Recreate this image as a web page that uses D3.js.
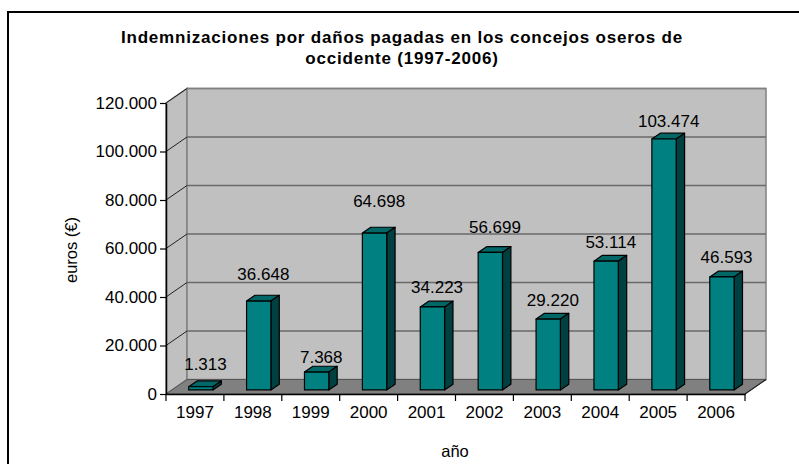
<!DOCTYPE html>
<html>
<head>
<meta charset="utf-8">
<script src="https://cdn.jsdelivr.net/npm/d3@7"></script>
<style>
  html, body { margin: 0; padding: 0; background: #fff; }
  svg { display: block; }
  text { font-family: "Liberation Sans", Arial, sans-serif; fill: #000; }
</style>
</head>
<body>
<svg id="chart" width="799" height="464"></svg>
<script>
// ---- data ----
const years = ["1997", "1998", "1999", "2000", "2001", "2002", "2003", "2004", "2005", "2006"];
const values = [1313, 36648, 7368, 64698, 34223, 56699, 29220, 53114, 103474, 46593];
const yTickValues = [0, 20000, 40000, 60000, 80000, 100000, 120000];
const titleLines = ["Indemnizaciones por daños pagadas en los concejos oseros de", "occidente (1997-2006)"];
const yTitle = "euros (€)";
const xTitle = "año";

// manual label adjustments seen in the original (pixels, upward)
const labelNudge = [5, 9, -2.5, 14, 2, 7.5, 1, 1, 0, 2];

(function () {
const svg = d3.select("#chart");
const fmt = d3.formatLocale({ decimal: ",", thousands: ".", grouping: [3], currency: ["", "€"] }).format(",d");
const FONT = "Liberation Sans, Arial, sans-serif";

// frame
svg.append("rect").attr("x", 8).attr("y", 12).attr("width", 810).attr("height", 470)
  .attr("fill", "#fff").attr("stroke", "#000").attr("stroke-width", 2);

// geometry
const pLeft = 166, pRight = 745, pBottom = 394, pTop = 103;
const DX = 21, DY = -14.5;
const x = d3.scaleBand().domain(years).range([pLeft, pRight]).padding(0);
const y = d3.scaleLinear().domain([0, 120000]).range([pBottom, pTop]);

const line = d3.line();
// side wall
svg.append("path")
  .attr("d", line([[pLeft, y(120000)], [pLeft + DX, y(120000) + DY], [pLeft + DX, y(0) + DY], [pLeft, y(0)]]) + "Z")
  .attr("fill", "#c0c0c0").attr("stroke", "#808080").attr("stroke-width", 1.5);
// back wall
svg.append("rect")
  .attr("x", pLeft + DX).attr("y", y(120000) + DY)
  .attr("width", pRight - pLeft).attr("height", y(0) - y(120000))
  .attr("fill", "#c0c0c0").attr("stroke", "#808080").attr("stroke-width", 1.5);

// gridlines
yTickValues.filter(t => t > 0).forEach(t => {
  svg.append("line")
    .attr("x1", pLeft + DX).attr("x2", pRight + DX)
    .attr("y1", y(t) + DY).attr("y2", y(t) + DY)
    .attr("stroke", t === 120000 ? "#808080" : "#6a6a6a").attr("stroke-width", 1.5);
  svg.append("line")
    .attr("x1", pLeft).attr("x2", pLeft + DX)
    .attr("y1", y(t)).attr("y2", y(t) + DY)
    .attr("stroke", "#222").attr("stroke-width", 1);
});

// floor
svg.append("path")
  .attr("d", line([[pLeft, y(0)], [pRight, y(0)], [pRight + DX, y(0) + DY], [pLeft + DX, y(0) + DY]]) + "Z")
  .attr("fill", "#808080").attr("stroke", "#555").attr("stroke-width", 1);
svg.append("line")
  .attr("x1", pRight).attr("y1", y(0)).attr("x2", pRight + DX).attr("y2", y(0) + DY)
  .attr("stroke", "#222").attr("stroke-width", 1.2);

// axes
const yAxis = d3.axisLeft(y).tickValues(yTickValues).tickFormat(fmt).tickSizeOuter(0).tickSizeInner(6).tickPadding(3);
const gy = svg.append("g").attr("transform", `translate(${pLeft},0)`).call(yAxis);
gy.select(".domain").attr("stroke", "#000").attr("stroke-width", 1.5);
gy.selectAll(".tick line").attr("stroke", "#000").attr("stroke-width", 1.2);
gy.selectAll(".tick text").attr("font-size", 17).attr("font-family", FONT).attr("fill", "#000");

const xAxis = d3.axisBottom(x).tickSizeOuter(0).tickSizeInner(0).tickPadding(12);
const gx = svg.append("g").attr("transform", `translate(0,${pBottom})`).call(xAxis);
gx.select(".domain").attr("stroke", "#000").attr("stroke-width", 1.5);
gx.selectAll(".tick text").attr("font-size", 17).attr("font-family", FONT).attr("fill", "#000");
// tick marks at category boundaries
const bounds = years.map(d => x(d)).concat([pRight]);
gx.selectAll(".bound").data(bounds).enter().append("line")
  .attr("x1", d => d).attr("x2", d => d).attr("y1", 0).attr("y2", 7)
  .attr("stroke", "#000").attr("stroke-width", 1.2);

// bars
const bw = x.bandwidth() * 0.42;
const z0 = 0.28, z1 = 0.68;
const bdx = (z1 - z0) * DX, bdy = (z1 - z0) * DY;
const bars = svg.append("g");
years.forEach((yr, i) => {
  const v = values[i];
  const x0 = x(yr) + (x.bandwidth() - bw) / 2 + z0 * DX;
  const x1 = x0 + bw;
  const yt = y(v) + z0 * DY;
  const yb = y(0) + z0 * DY;
  const g = bars.append("g").attr("stroke", "#000").attr("stroke-width", 1.2).attr("stroke-linejoin", "round");
  g.append("path").attr("d", line([[x0, yt], [x1, yt], [x1 + bdx, yt + bdy], [x0 + bdx, yt + bdy]]) + "Z").attr("fill", "#006666");
  g.append("path").attr("d", line([[x1, yt], [x1 + bdx, yt + bdy], [x1 + bdx, yb + bdy], [x1, yb]]) + "Z").attr("fill", "#004040");
  g.append("rect").attr("x", x0).attr("y", yt).attr("width", bw).attr("height", yb - yt).attr("fill", "#008080");
});

// data labels
svg.append("g").selectAll("text").data(years).enter().append("text")
  .attr("x", d => x(d) + x.bandwidth() / 2 + 10.5)
  .attr("y", (d, i) => y(values[i]) - 22 - labelNudge[i] + 6)
  .attr("text-anchor", "middle").attr("font-size", 17)
  .text((d, i) => fmt(values[i]));

// title
svg.append("g").selectAll("text").data(titleLines).enter().append("text")
  .attr("x", 402).attr("y", (d, i) => 43 + i * 21)
  .attr("text-anchor", "middle").attr("font-size", 17).attr("font-weight", "bold")
  .attr("letter-spacing", "0.8px")
  .text(d => d);

// axis titles
svg.append("text").attr("transform", `translate(77,250) rotate(-90)`)
  .attr("text-anchor", "middle").attr("font-size", 16.5).text(yTitle);
svg.append("text").attr("x", 455).attr("y", 457)
  .attr("text-anchor", "middle").attr("font-size", 16.5).text(xTitle);
})();
</script>
</body>
</html>
